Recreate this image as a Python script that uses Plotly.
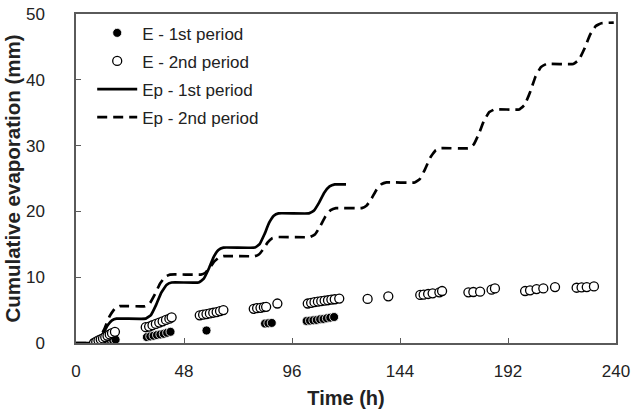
import plotly.graph_objects as go

# Cumulative potential evaporation, Ep (mm) vs time (h)
ep1_time = [0, 8, 10, 12, 14, 16, 18,
            31, 33.3, 35.6, 37.9, 40.2, 42.5,
            54.5, 56.7, 58.9, 61.1, 63.3, 65.5,
            79.5, 81.6, 83.7, 85.8, 87.9, 90,
            103.5, 105.8, 108.1, 110.4, 112.7, 115, 120]
ep1_value = [0, 0, 0.37, 1.41, 2.66, 3.44, 3.7,
             3.7, 4.25, 5.79, 7.66, 8.82, 9.2,
             9.2, 9.73, 11.21, 13.02, 14.13, 14.5,
             14.5, 15.02, 16.48, 18.24, 19.34, 19.7,
             19.7, 20.14, 21.37, 22.87, 23.79, 24.1, 24.1]

ep2_time = [0, 8, 10.3, 12.6, 14.9, 17.2, 19.5,
            30.7, 32.9, 35.1, 37.4, 39.6, 41.8,
            55.5, 57.5, 59.5, 61.5, 63.5, 65.5,
            79.5, 81.4, 83.3, 85.2, 87.1, 89,
            104, 106.3, 108.6, 110.9, 113.2, 115.5,
            127, 129.2, 131.4, 133.6, 135.8, 138,
            150.5, 152.8, 155.1, 157.4, 159.7, 162,
            174.5, 176.8, 179.1, 181.4, 183.7, 186,
            197, 199.4, 201.8, 204.2, 206.6, 209,
            221, 223.5, 226, 228.5, 231, 233.5, 239]
ep2_value = [0, 0, 0.56, 2.13, 4.03, 5.21, 5.6,
             5.6, 6.08, 7.42, 9.06, 10.06, 10.4,
             10.4, 10.68, 11.46, 12.42, 13.0, 13.2,
             13.2, 13.49, 14.3, 15.29, 15.9, 16.1,
             16.1, 16.54, 17.77, 19.27, 20.19, 20.5,
             20.5, 20.89, 21.98, 23.31, 24.13, 24.4,
             24.4, 24.92, 26.38, 28.14, 29.24, 29.6,
             29.6, 30.19, 31.84, 33.85, 35.09, 35.5,
             35.5, 36.19, 38.12, 40.47, 41.92, 42.4,
             42.4, 43.02, 44.76, 46.86, 48.17, 48.6, 48.7]

# Measured cumulative evaporation, E (mm)
e1_time = [8.5, 9.5, 10.5, 11.5, 12.5, 13.5, 14.5, 15.5, 16.5, 17.6,
           31.5, 33, 34.5, 36, 37.5, 39, 40.5, 42,
           58,
           84, 85.5, 87,
           102.5, 104, 105.5, 107, 108.5, 110, 111.5, 113, 114.7]
e1_value = [0.0, 0.05, 0.1, 0.15, 0.2, 0.25, 0.3, 0.35, 0.4, 0.5,
            0.9, 1.0, 1.1, 1.2, 1.3, 1.4, 1.55, 1.7,
            1.9,
            2.95, 3.0, 3.05,
            3.35, 3.4, 3.45, 3.5, 3.6, 3.65, 3.75, 3.85, 3.95]

e2_time = [8, 9, 10, 11, 12, 13, 14, 15, 16, 17.3,
           31, 32.5, 34, 35.5, 37, 38.5, 40, 41.5, 42.5,
           55, 56.5, 58, 59.5, 61, 62.5, 64, 65.5,
           79, 80.5, 82, 83.5, 84.5, 89.5,
           103, 104.5, 106, 107.5, 109, 110.5, 112, 113.5, 115, 117,
           129.6, 138.8,
           153, 154.5, 156.5, 158.5, 161.5, 162.7,
           174.4, 176.6, 179.6, 184.7, 186.2,
           199.6, 201.8, 204.7, 207.7, 212.9,
           222.5, 224.7, 227, 230.2]
e2_value = [0.0, 0.2, 0.4, 0.55, 0.7, 0.9, 1.1, 1.3, 1.5, 1.7,
            2.4, 2.5, 2.7, 2.9, 3.1, 3.3, 3.5, 3.7, 3.9,
            4.2, 4.3, 4.4, 4.5, 4.6, 4.7, 4.85, 5.0,
            5.2, 5.3, 5.35, 5.45, 5.5, 6.0,
            6.0, 6.1, 6.2, 6.3, 6.35, 6.45, 6.5, 6.6, 6.65, 6.75,
            6.7, 7.1,
            7.3, 7.35, 7.45, 7.55, 7.7, 7.9,
            7.7, 7.75, 7.8, 8.1, 8.3,
            7.9, 8.0, 8.2, 8.3, 8.5,
            8.4, 8.45, 8.5, 8.6]

x_ticks = [0, 48, 96, 144, 192, 240]
y_ticks = [0, 10, 20, 30, 40, 50]

FONT = "Liberation Sans, Arial, sans-serif"
AXIS_COLOR = "#5a5a5a"

fig = go.Figure()

fig.add_trace(go.Scatter(
    x=ep1_time, y=ep1_value, mode="lines", name="Ep - 1st period",
    line=dict(color="black", width=2.7, shape="spline", smoothing=0.3),
    legendrank=3, legendgroup="ep1"))
fig.add_trace(go.Scatter(
    x=ep2_time, y=ep2_value, mode="lines", name="Ep - 2nd period",
    line=dict(color="black", width=2.7, dash="10px,6px", shape="spline", smoothing=0.3),
    legendrank=4, legendgroup="ep2"))
fig.add_trace(go.Scatter(
    x=e1_time, y=e1_value, mode="markers", name="E - 1st period",
    marker=dict(symbol="circle", size=9, color="black",
                line=dict(color="white", width=0.8)),
    legendrank=1, legendgroup="e1"))
fig.add_trace(go.Scatter(
    x=e2_time, y=e2_value, mode="markers", name="E - 2nd period",
    marker=dict(symbol="circle", size=9, color="white",
                line=dict(color="black", width=1.3)),
    legendrank=2, legendgroup="e2"))

axis_common = dict(
    showline=True, mirror=True, linecolor=AXIS_COLOR, linewidth=1.5,
    ticks="inside", ticklen=5, tickwidth=1.2, tickcolor=AXIS_COLOR,
    showgrid=False, zeroline=False, automargin=False,
    tickfont=dict(family=FONT, size=17, color="#222"),
)

fig.update_layout(
    width=634, height=411,
    margin=dict(l=76, r=18, t=14, b=68, autoexpand=False),
    paper_bgcolor="white", plot_bgcolor="white",
    font=dict(family=FONT, color="#222"),
    xaxis=dict(range=[0, 240], tickvals=x_ticks, ticklabelstandoff=12,
               title=dict(text="<b>Time (h)</b>", font=dict(family=FONT, size=20, color="#222"),
                          standoff=11),
               **axis_common),
    yaxis=dict(range=[0, 50], tickvals=y_ticks, ticklabelstandoff=26,
               title=dict(text="<b>Cumulative evaporation (mm)</b>",
                          font=dict(family=FONT, size=20.5, color="#222"), standoff=0),
               **axis_common),
    showlegend=True,
    legend=dict(x=0.03, y=0.996, xanchor="left", yanchor="top",
                bgcolor="rgba(0,0,0,0)", itemwidth=40, tracegroupgap=3,
                font=dict(family=FONT, size=17, color="#222"),
                traceorder="grouped"),
)

fig.write_html("out.html")
